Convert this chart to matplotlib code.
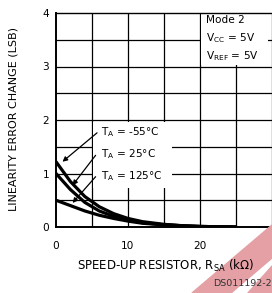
import numpy as np
import matplotlib
matplotlib.use('Agg')
import matplotlib.pyplot as plt
from matplotlib.patches import Polygon, Rectangle

# speed-up resistor (kOhm) and linearity error change (LSB)
r_sa = [0, 2, 4, 6, 8, 10, 12, 15, 18, 20, 25]
err_m55 = [1.22, 0.85, 0.57, 0.38, 0.25, 0.16, 0.10, 0.05, 0.02, 0.01, 0.0]
err_25 = [1.00, 0.70, 0.46, 0.30, 0.20, 0.13, 0.08, 0.04, 0.02, 0.01, 0.0]
err_125 = [0.50, 0.40, 0.30, 0.22, 0.16, 0.11, 0.07, 0.04, 0.02, 0.01, 0.0]

x_ticks = [0, 10, 20, 30]
y_ticks = [0, 1, 2, 3, 4]

plt.rcParams['font.family'] = ['DejaVu Sans']
W, H = 272, 293
fig = plt.figure(figsize=(W/100, H/100), dpi=100)

# pale red watermark in the lower right corner (figure pixel coords)
def px(x, y):
    return (x/W, 1 - y/H)
wm = '#e4a0a4'
fig.patches.append(Polygon([px(192, 293), px(231, 293), px(272, 258), px(272, 225)],
                           closed=True, transform=fig.transFigure, color=wm, zorder=0))
fig.patches.append(Polygon([px(247, 293), px(272, 293), px(272, 265)],
                           closed=True, transform=fig.transFigure, color=wm, zorder=0))

# axes reach past the right edge of the picture (x up to 40)
ax = fig.add_axes([56/W, 1 - 227/H, 288/W, 214/H])
ax.set_facecolor('none')
ax.set_xlim(0, 40)
ax.set_ylim(0, 4)

for xv in np.arange(5, 40, 5):
    ax.axvline(xv, color='black', lw=0.9, zorder=1)
for yv in np.arange(0.5, 4, 0.5):
    ax.axhline(yv, color='black', lw=0.9, zorder=1)

# white backing behind the temperature labels and the condition box
ax.add_patch(Rectangle((5.15, 0.72), 10.9, 1.25, facecolor='white', edgecolor='none', zorder=2))
ax.add_patch(Rectangle((20.15, 3.03), 9.3, 0.97, facecolor='white', edgecolor='none', zorder=2))

for y in (err_m55, err_25, err_125):
    ax.plot(r_sa, y, color='black', lw=2.3, solid_capstyle='round', zorder=3)

fs = 7.6
lbls = [(r'T$_\mathregular{A}$ = -55°C', 1.78, (5.7, 1.76), (0.9, 1.22)),
        (r'T$_\mathregular{A}$ = 25°C', 1.37, (5.5, 1.34), (2.3, 0.78)),
        (r'T$_\mathregular{A}$ = 125°C', 0.96, (5.5, 0.94), (2.3, 0.45))]
for txt, ty, p0, p1 in lbls:
    ax.text(6.2, ty, txt, fontsize=fs, va='center', ha='left', zorder=4)
    ax.annotate('', xy=p1, xytext=p0,
                arrowprops=dict(arrowstyle='-|>', color='black', lw=0.9,
                                mutation_scale=7, shrinkA=0, shrinkB=0), zorder=4)

ax.text(20.8, 3.87, 'Mode 2', fontsize=fs, va='center', zorder=4)
ax.text(20.8, 3.53, r'V$_\mathregular{CC}$ = 5V', fontsize=fs, va='center', zorder=4)
ax.text(20.8, 3.2, r'V$_\mathregular{REF}$ = 5V', fontsize=fs, va='center', zorder=4)

ax.spines['right'].set_visible(False)
for s in ('left', 'bottom', 'top'):
    ax.spines[s].set_zorder(5)
ax.spines['top'].set_linewidth(1.0)
ax.spines['left'].set_linewidth(1.4)
ax.spines['bottom'].set_linewidth(1.4)

ax.set_xticks(x_ticks)
ax.set_yticks(y_ticks)
ax.tick_params(length=0, labelsize=fs)
ax.tick_params(axis='x', pad=10)
ax.tick_params(axis='y', pad=5)

fig.text(14/W, 1 - 119/H, 'LINEARITY ERROR CHANGE (LSB)', rotation=90,
         fontsize=8.0, ha='center', va='center')
fig.text(166/W, 1 - 266/H, r'SPEED-UP RESISTOR, R$_\mathregular{SA}$ (k$\Omega$)',
         fontsize=8.5, ha='center', va='center')
fig.text(213/W, 1 - 283/H, 'DS011192-2', fontsize=6.8, color='#333333',
         ha='left', va='center')

fig.savefig('out.png', dpi=100)
